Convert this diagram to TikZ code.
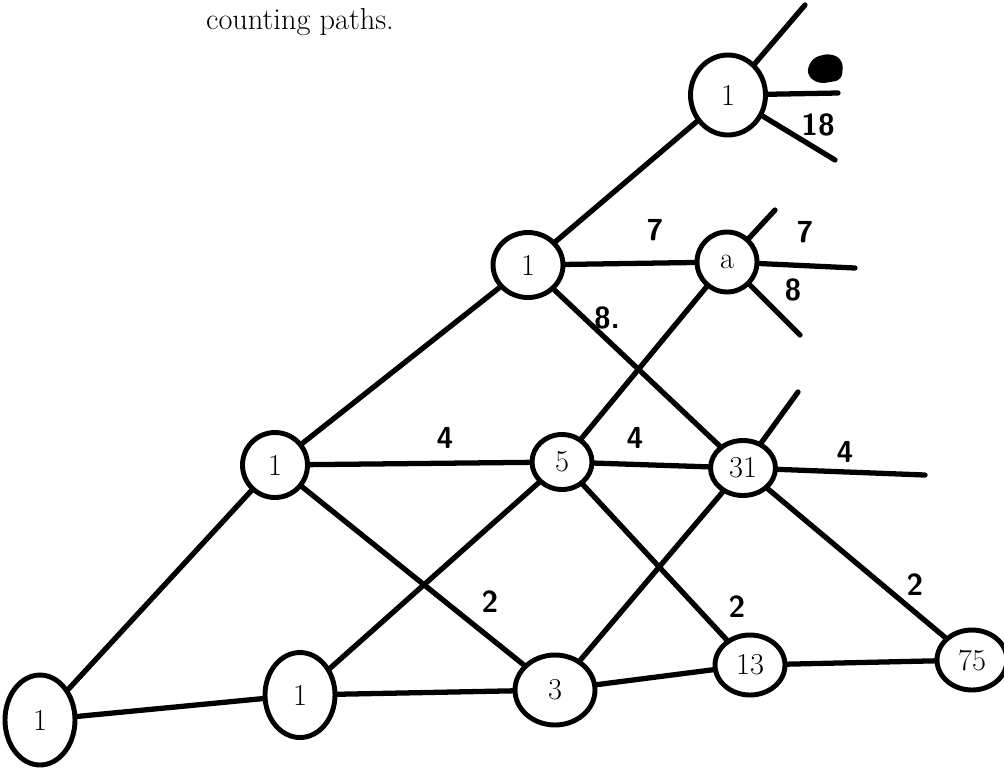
\documentclass[tikz,border=0pt]{standalone}
\usetikzlibrary{shapes.geometric}
\tikzset{
  pnode/.style={draw, ellipse, line width=2.8pt, inner sep=0pt, font=\LARGE},
  pedge/.style={line width=3pt, line cap=round},
  plabel/.style={font=\LARGE\bfseries\sffamily}
}
\begin{document}
\begin{tikzpicture}[x=0.02cm, y=-0.02cm]
\useasboundingbox (0,0) rectangle (1004,768);
\node (title) at (300,22) {\LARGE counting paths.};
% bottom row
\node[pnode, minimum width=1.4cm, minimum height=1.8cm] (a1) at (40,720) {1};
\node[pnode, minimum width=1.4cm, minimum height=1.7cm] (b1) at (300,695) {1};
\node[pnode, minimum width=1.6cm, minimum height=1.4cm] (c3) at (555,690) {3};
\node[pnode, minimum width=1.4cm, minimum height=1.2cm] (d13) at (750,665) {13};
\node[pnode, minimum width=1.4cm, minimum height=1.2cm] (e75) at (972,660) {75};
% middle row
\node[pnode, minimum width=1.3cm, minimum height=1.3cm] (f1) at (275,465) {1};
\node[pnode, minimum width=1.2cm, minimum height=1.1cm] (g5) at (562,462) {5};
\node[pnode, minimum width=1.3cm, minimum height=1.1cm] (h31) at (743,468) {31};
% upper rows
\node[pnode, minimum width=1.4cm, minimum height=1.3cm] (i1) at (528,265) {1};
\node[pnode, minimum width=1.2cm, minimum height=1.2cm] (ja) at (727,262) {a};
\node[pnode, minimum width=1.5cm, minimum height=1.6cm] (k1) at (728,95) {1};
% loose ends
\coordinate (kup) at (805,5);
\coordinate (kr) at (838,93);
\coordinate (kd) at (835,160);
\coordinate (ju) at (775,210);
\coordinate (jr) at (855,268);
\coordinate (jd) at (800,335);
\coordinate (hu) at (798,392);
\coordinate (hr) at (925,475);
% edges
\draw[pedge] (a1) -- (b1);
\draw[pedge] (b1) -- (c3);
\draw[pedge] (c3) -- (d13);
\draw[pedge] (d13) -- (e75);
\draw[pedge] (a1) -- (f1);
\draw[pedge] (f1) -- (i1);
\draw[pedge] (i1) -- (k1);
\draw[pedge] (k1) -- (kup);
\draw[pedge] (k1) -- (kr);
\draw[pedge] (k1) -- (kd);
\draw[pedge] (f1) -- (g5);
\draw[pedge] (g5) -- (h31);
\draw[pedge] (h31) -- (hr);
\draw[pedge] (h31) -- (hu);
\draw[pedge] (f1) -- (c3);
\draw[pedge] (g5) -- (d13);
\draw[pedge] (h31) -- (e75);
\draw[pedge] (b1) -- (g5);
\draw[pedge] (c3) -- (h31);
\draw[pedge] (g5) -- (ja);
\draw[pedge] (i1) -- (h31);
\draw[pedge] (i1) -- (ja);
\draw[pedge] (ja) -- (ju);
\draw[pedge] (ja) -- (jr);
\draw[pedge] (ja) -- (jd);
% labels
\node[plabel] (l4a) at (445,438) {4};
\node[plabel] (l4b) at (635,438) {4};
\node[plabel] (l4c) at (845,452) {4};
\node[plabel] (l2a) at (490,602) {2};
\node[plabel] (l2b) at (737,607) {2};
\node[plabel] (l2c) at (915,585) {2};
\node[plabel] (l7a) at (655,230) {7};
\node[plabel] (l7b) at (805,232) {7};
\node[plabel] (l8a) at (607,318) {8.};
\node[plabel] (l8b) at (793,290) {8};
\node[plabel] (l18) at (818,125) {18};
% scribbled out
\fill[rounded corners=4pt] (806,74) -- (812,58) -- (830,53) -- (843,60) -- (842,80) -- (818,84) -- cycle;
\end{tikzpicture}
\end{document}
